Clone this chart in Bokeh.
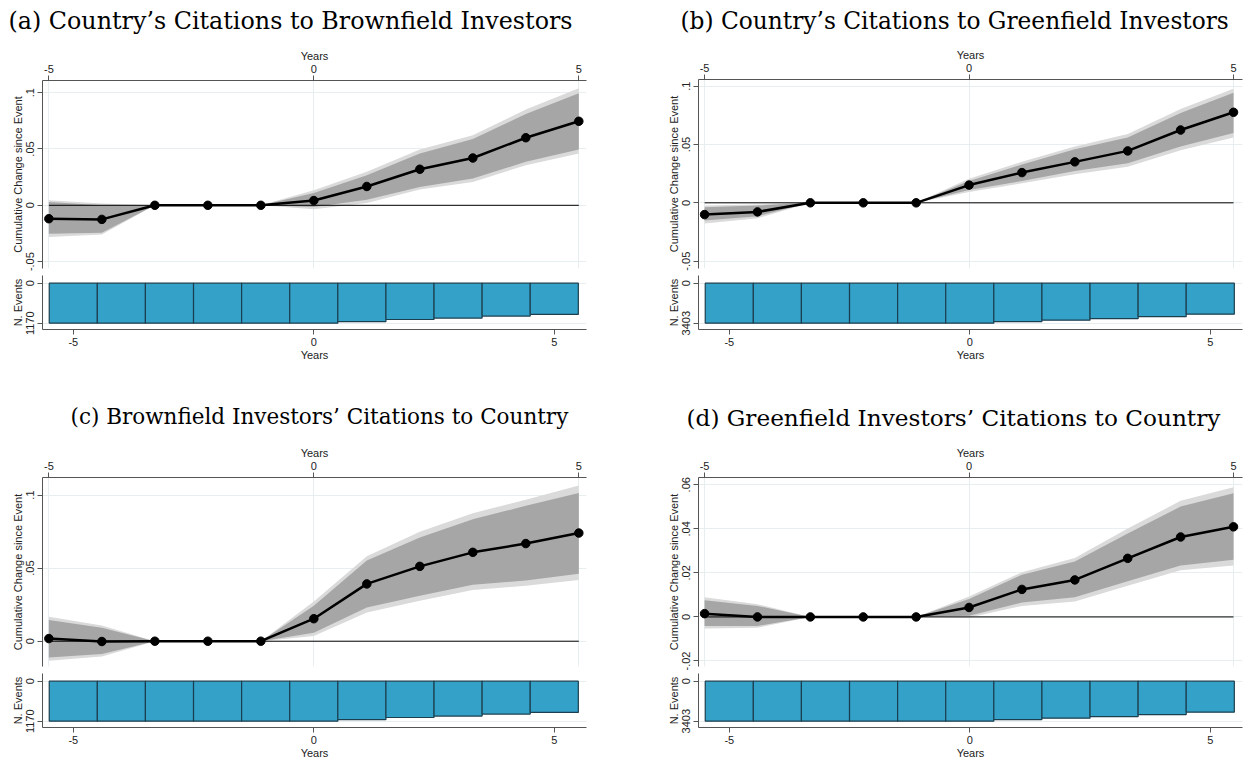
from bokeh.plotting import figure
from bokeh.layouts import column, row
from bokeh.models import Range1d, FixedTicker, Title
from bokeh.embed import file_html
from bokeh.resources import INLINE

years = [-5, -4, -3, -2, -1, 0, 1, 2, 3, 4, 5]

titles = [
    "(a) Country\u2019s Citations to Brownfield Investors",
    "(b) Country\u2019s Citations to Greenfield Investors",
    "(c) Brownfield Investors\u2019 Citations to Country",
    "(d) Greenfield Investors\u2019 Citations to Country",
]

# Panel a
a_est = [-0.0119, -0.0125, 0, 0, 0, 0.0042, 0.0167, 0.0320, 0.0420, 0.0600, 0.0746]
a_hi90 = [0.0030, 0.0000, 0, 0, 0, 0.0110, 0.0267, 0.0460, 0.0588, 0.0810, 0.0994]
a_lo90 = [-0.0252, -0.0243, 0, 0, 0, -0.0015, 0.0050, 0.0163, 0.0237, 0.0386, 0.0496]
a_hi95 = [0.0045, 0.0015, 0, 0, 0, 0.0134, 0.0297, 0.0496, 0.0623, 0.0850, 0.1039]
a_lo95 = [-0.0282, -0.0260, 0, 0, 0, -0.0036, 0.0020, 0.0140, 0.0208, 0.0356, 0.0460]

# Panel b
b_est = [-0.0101, -0.0078, 0, 0, 0, 0.0152, 0.0259, 0.0351, 0.0445, 0.0624, 0.0776]
b_hi90 = [-0.0037, -0.0023, 0, 0, 0, 0.0187, 0.0328, 0.0460, 0.0560, 0.0770, 0.0943]
b_lo90 = [-0.0152, -0.0115, 0, 0, 0, 0.0109, 0.0187, 0.0273, 0.0339, 0.0483, 0.0598]
b_hi95 = [-0.0023, -0.0014, 0, 0, 0, 0.0207, 0.0351, 0.0483, 0.0589, 0.0805, 0.0977]
b_lo95 = [-0.0178, -0.0132, 0, 0, 0, 0.0092, 0.0167, 0.0244, 0.0310, 0.0451, 0.0560]

# Panel c
c_est = [0.0018, -0.0002, 0, 0, 0, 0.0154, 0.0392, 0.0512, 0.0608, 0.0668, 0.0740]
c_hi90 = [0.0145, 0.0092, 0, 0, 0, 0.0242, 0.0553, 0.0710, 0.0834, 0.0926, 0.1014]
c_lo90 = [-0.0111, -0.0088, 0, 0, 0, 0.0058, 0.0230, 0.0311, 0.0387, 0.0415, 0.0461]
c_hi95 = [0.0168, 0.0108, 0, 0, 0, 0.0272, 0.0581, 0.0749, 0.0876, 0.0968, 0.1065]
c_lo95 = [-0.0134, -0.0104, 0, 0, 0, 0.0035, 0.0196, 0.0277, 0.0350, 0.0380, 0.0419]

# Panel d
d_est = [0.0015, 0.0000, 0, 0, 0, 0.0043, 0.0125, 0.0168, 0.0266, 0.0363, 0.0409]
d_hi90 = [0.0076, 0.0050, 0, 0, 0, 0.0081, 0.0192, 0.0252, 0.0379, 0.0501, 0.0562]
d_lo90 = [-0.0041, -0.0041, 0, 0, 0, 0.0005, 0.0066, 0.0089, 0.0162, 0.0234, 0.0260]
d_hi95 = [0.0089, 0.0058, 0, 0, 0, 0.0093, 0.0203, 0.0267, 0.0401, 0.0527, 0.0589]
d_lo95 = [-0.0053, -0.0049, 0, 0, 0, -0.0003, 0.0050, 0.0070, 0.0142, 0.0212, 0.0234]

# Number of events per year
n_brown = [1170, 1170, 1170, 1170, 1170, 1170, 1126, 1062, 1019, 960, 912]
n_green = [3403, 3403, 3403, 3403, 3403, 3403, 3262, 3148, 3020, 2836, 2638]
n_brown_max = 1170
n_green_max = 3403

# axis ticks and labels
yt_ab = [-0.05, 0, 0.05, 0.1]
yl_ab = ["-.05", "0", ".05", ".1"]
yt_c = [0, 0.05, 0.1]
yl_c = ["0", ".05", ".1"]
yt_d = [-0.02, 0, 0.02, 0.04, 0.06]
yl_d = ["-.02", "0", ".02", ".04", ".06"]
xt = [-5, 0, 5]
xl = ["-5", "0", "5"]

AX = "#555555"
TXT = "#222222"
GRID = "#e6eef0"
SANS = "Liberation Sans"


def style_axis(ax, ticks, labels=None, vertical=False):
    ax.ticker = FixedTicker(ticks=ticks)
    if labels is not None:
        ax.major_label_overrides = {t: l for t, l in zip(ticks, labels)}
    ax.axis_line_color = AX
    ax.major_tick_line_color = AX
    ax.major_tick_out = 5
    ax.major_tick_in = 0
    ax.minor_tick_line_color = None
    ax.major_label_standoff = 3
    ax.axis_label_standoff = 0
    ax.major_label_text_font = SANS
    ax.major_label_text_font_size = "11px"
    ax.major_label_text_color = TXT
    ax.axis_label_text_font = SANS
    ax.axis_label_text_font_size = "11px"
    ax.axis_label_text_font_style = "normal"
    ax.axis_label_text_color = TXT
    if vertical:
        ax.major_label_orientation = "vertical"


def quadrant(title, tfs, tstand, gap, toff, est, lo90, hi90, lo95, hi95, yr, yt, yl, n, nmax, hr,
             qw, bl, frame_w, xr_main, xr_hist, hist_h, hist_bb):
    br = qw - bl - frame_w
    p = figure(width=qw, height=272, x_range=Range1d(*xr_main), y_range=Range1d(*yr),
               x_axis_location="above", output_backend="svg", toolbar_location=None,
               min_border_left=bl, min_border_right=br,
               min_border_top=0, min_border_bottom=4, title=None)
    p.outline_line_color = None
    p.background_fill_color = "white"
    p.border_fill_color = "white"
    # white spacer between the "Years" axis and the panel title
    p.add_layout(Title(text=".", text_font_size="4px", text_color="white", standoff=gap), "above")
    p.add_layout(Title(text=title, text_font="DejaVu Serif", text_font_size=tfs,
                       text_font_style="normal", text_color="black", align="left",
                       offset=toff, standoff=tstand), "above")
    style_axis(p.xaxis[0], xt, xl)
    p.xaxis.axis_label = "Years"
    style_axis(p.yaxis[0], yt, yl, vertical=True)
    p.yaxis.axis_label = "Cumulative Change since Event"
    p.xgrid.grid_line_color = GRID
    p.ygrid.grid_line_color = GRID
    p.varea(x=years, y1=lo95, y2=hi95, fill_color="#dadada")
    p.varea(x=years, y1=lo90, y2=hi90, fill_color="#a6a6a6")
    p.line([years[0], years[-1]], [0, 0], line_color="black", line_width=1)
    p.line(years, est, line_color="black", line_width=2.5)
    p.scatter(years, est, size=8.5, color="black")

    h = figure(width=qw, height=hist_h, x_range=Range1d(*xr_hist), y_range=Range1d(*hr),
               output_backend="svg", toolbar_location=None,
               min_border_left=bl, min_border_right=br,
               min_border_top=3, min_border_bottom=hist_bb)
    h.outline_line_color = None
    h.xgrid.grid_line_color = None
    h.ygrid.grid_line_color = GRID
    style_axis(h.xaxis[0], xt, xl)
    h.xaxis.axis_label = "Years"
    style_axis(h.yaxis[0], [0, nmax], None, vertical=True)
    h.yaxis.axis_label = "N. Events"
    h.vbar(x=years, width=1, top=0, bottom=n, fill_color="#34a1c9",
           line_color="#1c3f4f", line_width=1.2)
    return column(p, h, spacing=0)


H1 = 398
W_A = 664
W_B = 1244 - W_A
xr_a = (-5.12, 5.145)
xr_b = (-5.115, 5.17)
xh = (-5.64, 5.67)
hr_brown = (1354, -225)
hr_green = (3939, -655)

qa = quadrant(titles[0], "23.8px", 8, 3, -34, a_est, a_lo90, a_hi90, a_lo95, a_hi95,
              (-0.0561, 0.1108), yt_ab, yl_ab, n_brown, n_brown_max, hr_brown,
              W_A, 42, 544, xr_a, xh, H1 - 272, H1 - 272 - 57)
qb = quadrant(titles[1], "23.3px", 9, 2, -18, b_est, b_lo90, b_hi90, b_lo95, b_hi95,
              (-0.0563, 0.1057), yt_ab, yl_ab, n_green, n_green_max, hr_green,
              W_B, 34, 544, xr_b, xh, H1 - 272, H1 - 272 - 57)
H2 = 761 - H1
qc = quadrant(titles[2], "21.5px", 6, 7, 28, c_est, c_lo90, c_hi90, c_lo95, c_hi95,
              (-0.0173, 0.112), yt_c, yl_c, n_brown, n_brown_max, hr_brown,
              W_A, 42, 544, xr_a, xh, H2 - 272, H2 - 272 - 57)
qd = quadrant(titles[3], "23.2px", 6, 5, -12, d_est, d_lo90, d_hi90, d_lo95, d_hi95,
              (-0.0225, 0.0633), yt_d, yl_d, n_green, n_green_max, hr_green,
              W_B, 34, 544, xr_b, xh, H2 - 272, H2 - 272 - 57)

layout = column(row(qa, qb, spacing=0), row(qc, qd, spacing=0), spacing=0)

open("out.html", "w").write(file_html(layout, INLINE))
